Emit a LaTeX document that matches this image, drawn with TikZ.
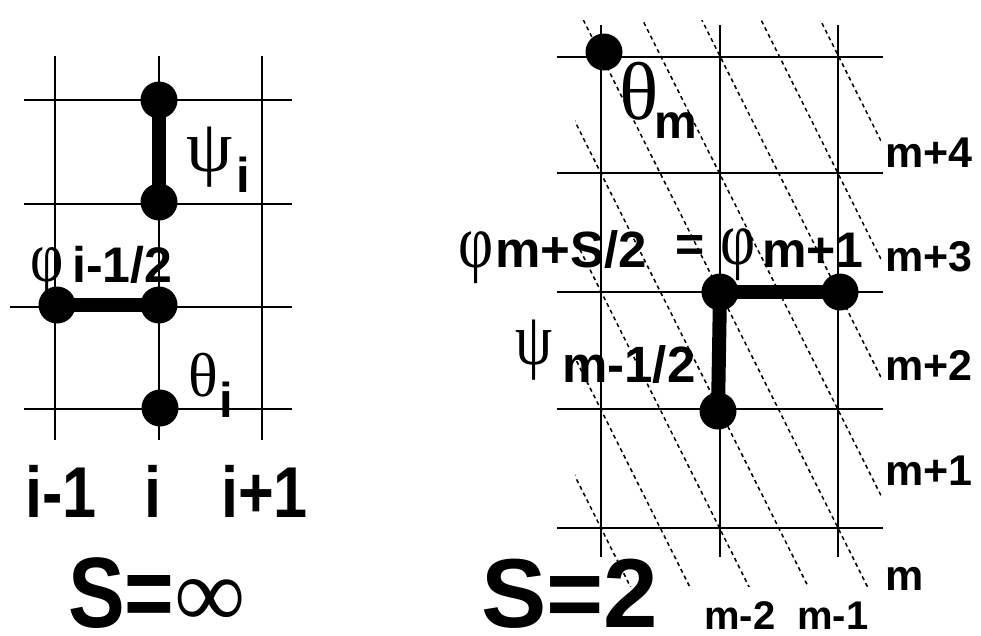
\documentclass[tikz,border=0pt]{standalone}
\usepackage{fontspec}
\setmainfont{Liberation Sans}
\newfontfamily\greekfont{Liberation Serif}
\newfontfamily\slimgreek{Liberation Serif}[FakeStretch=0.8]
\newfontfamily\boldsans{Liberation Sans Bold}
\newfontfamily\narrowsans{Liberation Sans Bold}[FakeStretch=0.85]
\newcommand{\fs}[1]{\fontsize{#1}{#1}\selectfont}

\tikzset{
  gridline/.style={line width=1.3pt},
  diagline/.style={line width=1.5pt, black, dash pattern=on 4pt off 3.5pt},
  bond/.style={line width=14pt},
  site/.style={circle, fill=black, inner sep=0pt, minimum size=37pt},
  greek/.style={inner sep=0pt, anchor=south west, font=\greekfont\fs{#1}},
  greek/.default=72pt,
  slim/.style={inner sep=0pt, anchor=south west, font=\slimgreek\fs{#1}},
  slim/.default=72pt,
  sub/.style={inner sep=0pt, anchor=base west, font=\boldsans\fs{#1}},
  sub/.default=49pt,
}

\begin{document}
\begin{tikzpicture}[x=1pt,y=-1pt]
\useasboundingbox (0,0) rectangle (981,635);

% S = infinity: grid
\foreach \x in {55,159,262}
  \draw[gridline] (\x,56) -- (\x,440);
\foreach \y in {100,204,409}
  \draw[gridline] (24,\y) -- (292,\y);
\draw[gridline] (10,307) -- (292,307);

% S = infinity: sites and bonds
\node[site] (psiA) at (159,100) {};
\node[site] (psiB) at (159,202) {};
\node[site] (phiA) at (57,305) {};
\node[site] (phiB) at (159,305) {};
\node[site] (theta) at (160,408) {};
\draw[bond] (psiA.center) -- (psiB.center);
\draw[bond] (phiA.center) -- (phiB.center);

% S = infinity: labels
\node[greek=74pt] (psiG) at (186,187) {ψ};
\node[sub] (psiS) at (236,192) {i};
\node[slim=72pt] (phiG) at (30,297) {φ};
\node[sub=50pt] (phiS) at (72,282) {i-1/2};
\node[greek=62pt] (thetaG) at (188,397) {θ};
\node[sub] (thetaS) at (219,417) {i};

\node[inner sep=0pt, anchor=base west, font=\narrowsans\fs{72pt}] (colA) at (25,517) {i-1};
\node[inner sep=0pt, anchor=base west, font=\narrowsans\fs{72pt}] (colB) at (144,517) {i};
\node[inner sep=0pt, anchor=base west, font=\narrowsans\fs{72pt}] (colC) at (221,517) {i+1};
\node[inner sep=0pt, anchor=base west] (sinf) at (68,627)
  {{\narrowsans\fs{100pt}S=}{\greekfont\fs{100pt}∞}};

% S = 2: diagonals
\begin{scope}
\clip (575,20) rectangle (881,586);
\foreach \k in {-4,...,4}
  \draw[diagline] (482.5,{528-118.2*(\k+6)}) -- (956.5,{528-118.2*(\k-2)});
\end{scope}

% S = 2: grid
\foreach \x in {601,720,838}
  \draw[gridline] (\x,25) -- (\x,557);
\foreach \y in {57,173,292,409,528}
  \draw[gridline] (557,\y) -- (883,\y);

% S = 2: sites and bonds
\node[site] (thm) at (604,52) {};
\node[site] (phm) at (720,292) {};
\node[site] (phn) at (840,292) {};
\node[site] (psm) at (718,411) {};
\draw[bond] (phm.center) -- (phn.center);
\draw[bond] (phm.center) -- (psm.center);

% S = 2: labels
\node[greek=82pt] (thmG) at (619,120) {θ};
\node[sub=48pt] (thmS) at (654,138) {m};
\node[slim=76pt] (phmG) at (458,284) {φ};
\node[sub=51pt] (phmS) at (495,267) {m+S/2};
\node[inner sep=0pt, font=\boldsans\fs{50pt}] (eq) at (690,248) {=};
\node[slim=76pt] (phnG) at (720,281) {φ};
\node[sub=50pt] (phnS) at (762,267) {m+1};
\node[slim=74pt] (psmG) at (515,380) {ψ};
\node[sub=51pt] (psmS) at (562,382) {m-1/2};

\node[sub=43pt] (line4) at (885,167) {m+4};
\node[sub=43pt] (line3) at (885,271) {m+3};
\node[sub=43pt] (line2) at (885,380) {m+2};
\node[sub=43pt] (line1) at (885,485) {m+1};
\node[sub=43pt] (line0) at (885,590) {m};
\node[sub=40pt] (lineA) at (704,629) {m-2};
\node[sub=40pt] (lineB) at (797,629) {m-1};

\node[inner sep=0pt, anchor=base west, font=\boldsans\fs{98pt}] (stwo) at (481,627) {S=2};
\end{tikzpicture}
\end{document}
